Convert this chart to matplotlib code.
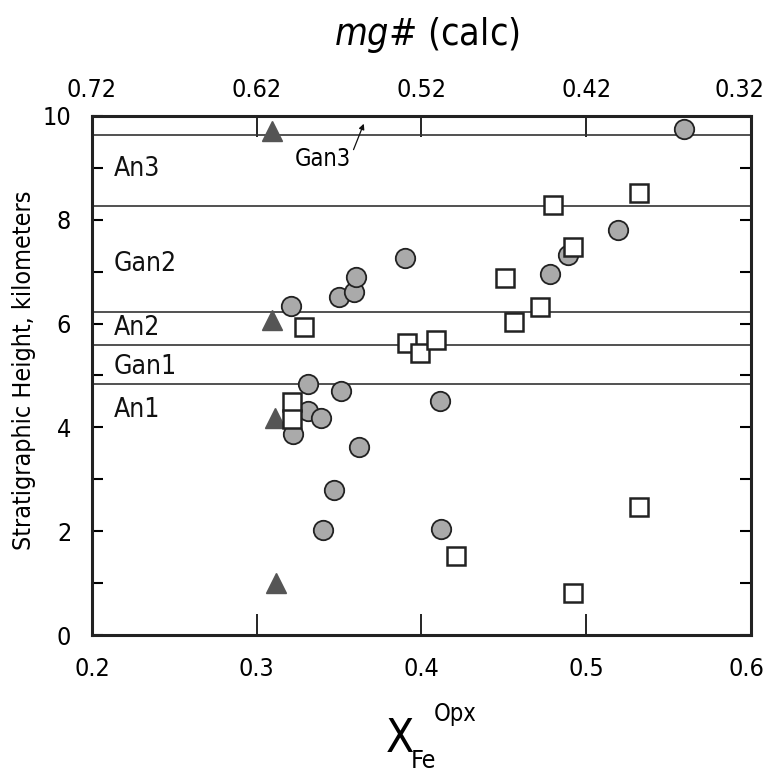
import matplotlib
matplotlib.use("Agg")
import matplotlib.pyplot as plt
import matplotlib.transforms as mtransforms
import numpy as np

plt.rcParams['font.family'] = ['DejaVu Sans']
plt.rcParams['font.stretch'] = 'condensed'

# unit boundaries (km)
bounds = [9.63, 8.27, 6.23, 5.58, 4.83]
unit_names = ["An3", "Gan2", "An2", "Gan1", "An1"]
unit_y = [8.98, 7.15, 5.92, 5.17, 4.33]

# triangles
tri_x = [0.309, 0.309, 0.311, 0.312]
tri_y = [9.71, 6.06, 4.19, 1.0]

# circles
circ_x = [0.321, 0.350, 0.359, 0.360, 0.390, 0.478, 0.489, 0.519, 0.5595,
          0.331, 0.351, 0.331, 0.339, 0.322, 0.362, 0.347, 0.340, 0.411, 0.412]
circ_y = [6.33, 6.52, 6.60, 6.89, 7.27, 6.96, 7.33, 7.81, 9.75,
          4.83, 4.71, 4.31, 4.19, 3.88, 3.62, 2.79, 2.02, 4.50, 2.04]

# squares
sq_x = [0.329, 0.391, 0.399, 0.409, 0.456, 0.472, 0.451, 0.492, 0.480, 0.532,
        0.3215, 0.3215, 0.421, 0.492, 0.532]
sq_y = [5.94, 5.62, 5.44, 5.69, 6.04, 6.31, 6.87, 7.48, 8.29, 8.52,
        4.48, 4.17, 1.52, 0.81, 2.46]

xticks = [0.2, 0.3, 0.4, 0.5, 0.6]
mg_ticks = [0.72, 0.62, 0.52, 0.42, 0.32]

fig = plt.figure(figsize=(7.71, 7.73), dpi=100)
ax = fig.add_axes([0.1193, 0.1785, 0.8547, 0.6715])

for b in bounds:
    ax.axhline(b, color='#333333', lw=1.2, zorder=1)

ax.plot(tri_x, tri_y, '^', ms=14, color='#555555', mec='#555555', zorder=3, clip_on=False)
ax.plot(circ_x, circ_y, 'o', ms=14, mfc='#aaaaaa', mec='#222222', mew=1.3, zorder=3, clip_on=False)
ax.plot(sq_x, sq_y, 's', ms=13.5, mfc='white', mec='#222222', mew=1.8, zorder=3, clip_on=False)

for name, yy in zip(unit_names, unit_y):
    ax.text(0.213, yy, name, fontsize=19, va='center', ha='left', color='#111111')

ax.annotate("Gan3", xy=(0.365, 9.85), xytext=(0.34, 9.17), fontsize=17, ha='center', va='center',
            arrowprops=dict(arrowstyle='-|>', color='#111111', lw=0.9, shrinkA=0, shrinkB=0,
                            mutation_scale=8, relpos=(1.0, 0.6)))

ax.set_xlim(0.2, 0.6)
ax.set_ylim(0, 10)
ax.set_xticks(xticks)
ax.set_xticklabels([str(v) for v in xticks])
ax.set_yticks([0, 2, 4, 6, 8, 10])
ax.set_yticks(np.arange(0, 11, 1), minor=True)
ax.tick_params(axis='x', direction='in', length=15, width=1.2, labelsize=18, pad=16)
ax.tick_params(axis='y', which='both', direction='in', length=8, width=1.5, labelsize=18,
               right=True, pad=15)
for s in ax.spines.values():
    s.set_linewidth(2.2)
    s.set_color('#222222')

top = ax.secondary_xaxis('top', functions=(lambda x: 0.92 - x, lambda m: 0.92 - m))
top.set_xticks(mg_ticks)
top.set_xticklabels([str(v) for v in mg_ticks])
top.tick_params(direction='in', length=15, width=1.2, labelsize=18, pad=10)

# nudge the edge labels so they stay inside the figure
shift = mtransforms.ScaledTranslation(-8 / 72, 0, fig.dpi_scale_trans)
lab = top.get_xticklabels()[-1]
lab.set_transform(lab.get_transform() + shift)
shift2 = mtransforms.ScaledTranslation(-3 / 72, 0, fig.dpi_scale_trans)
lab = ax.get_xticklabels()[-1]
lab.set_transform(lab.get_transform() + shift2)

ax.set_ylabel("Stratigraphic Height, kilometers", fontsize=18)
ax.yaxis.set_label_coords(-0.085, 0.51)

fig.text(0.554, 0.955, r"$\it{mg\#}$ (calc)", fontsize=27, ha='center', va='center')
fig.text(0.519, 0.043, "X", fontsize=33, ha='center', va='center')
fig.text(0.549, 0.016, "Fe", fontsize=18, ha='center', va='center')
fig.text(0.590, 0.076, "Opx", fontsize=17, ha='center', va='center')

fig.savefig("out.png", dpi=100)
